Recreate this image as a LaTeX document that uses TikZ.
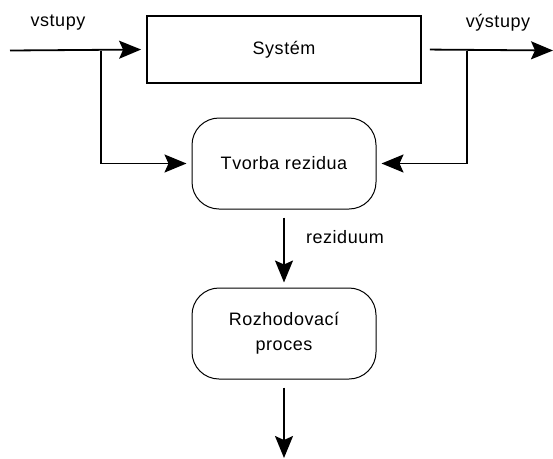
\documentclass[tikz,border=0pt]{standalone}
\usepackage{fontspec}
\setmainfont[LetterSpace=3]{Liberation Sans}
\usetikzlibrary{arrows.meta}
\tikzset{
  blok/.style={draw, line width=1.8pt, minimum width=274pt, minimum height=67pt},
  proces/.style={draw, line width=1pt, rounded corners=27pt, minimum width=184pt, minimum height=91pt, align=center},
  sipka/.style={line width=1.8pt, -{Stealth[length=22pt, width=18pt, inset=4pt]}},
  cara/.style={line width=1.8pt},
  popis/.style={inner sep=0pt}
}
\begin{document}
\begin{tikzpicture}[x=1pt, y=-1pt, font=\fontsize{18}{25}\selectfont]
\useasboundingbox (0,0) rectangle (553,458);
% bloky
\node[blok] (sys) at (284,49.5) {Systém};
\node[proces] (tvorba) at (284,163.5) {Tvorba rezidua};
\node[proces] (rozh) at (284,333.5) {Rozhodovací\\proces};
% popisy
\node[popis] (vst) at (58,23) {vstupy};
\node[popis] (vyst) at (498,23) {výstupy};
\node[popis] (rez) at (345,237) {reziduum};
% body
\coordinate (vstup) at (10,50.5);
\coordinate (odb1) at (101,50.5);
\coordinate (roh1) at (101,163.5);
\coordinate (odb2) at (467,50.5);
\coordinate (roh2) at (467,163.5);
\coordinate (vystup) at (553,50.5);
\coordinate (konec) at (284,458);
% spoje
\draw[sipka, shorten >=5pt] (vstup) -- (sys.west);
\draw[cara] (odb1) -- (roh1);
\draw[sipka, shorten >=5pt] (roh1) -- (tvorba.west);
\draw[sipka, shorten <=8pt] (sys.east) -- (vystup);
\draw[cara] (odb2) -- (roh2);
\draw[sipka, shorten >=5pt] (roh2) -- (tvorba.east);
\draw[sipka, shorten <=8pt, shorten >=5pt] (tvorba.south) -- (rozh.north);
\draw[sipka, shorten <=8pt] (rozh.south) -- (konec);
\end{tikzpicture}
\end{document}
